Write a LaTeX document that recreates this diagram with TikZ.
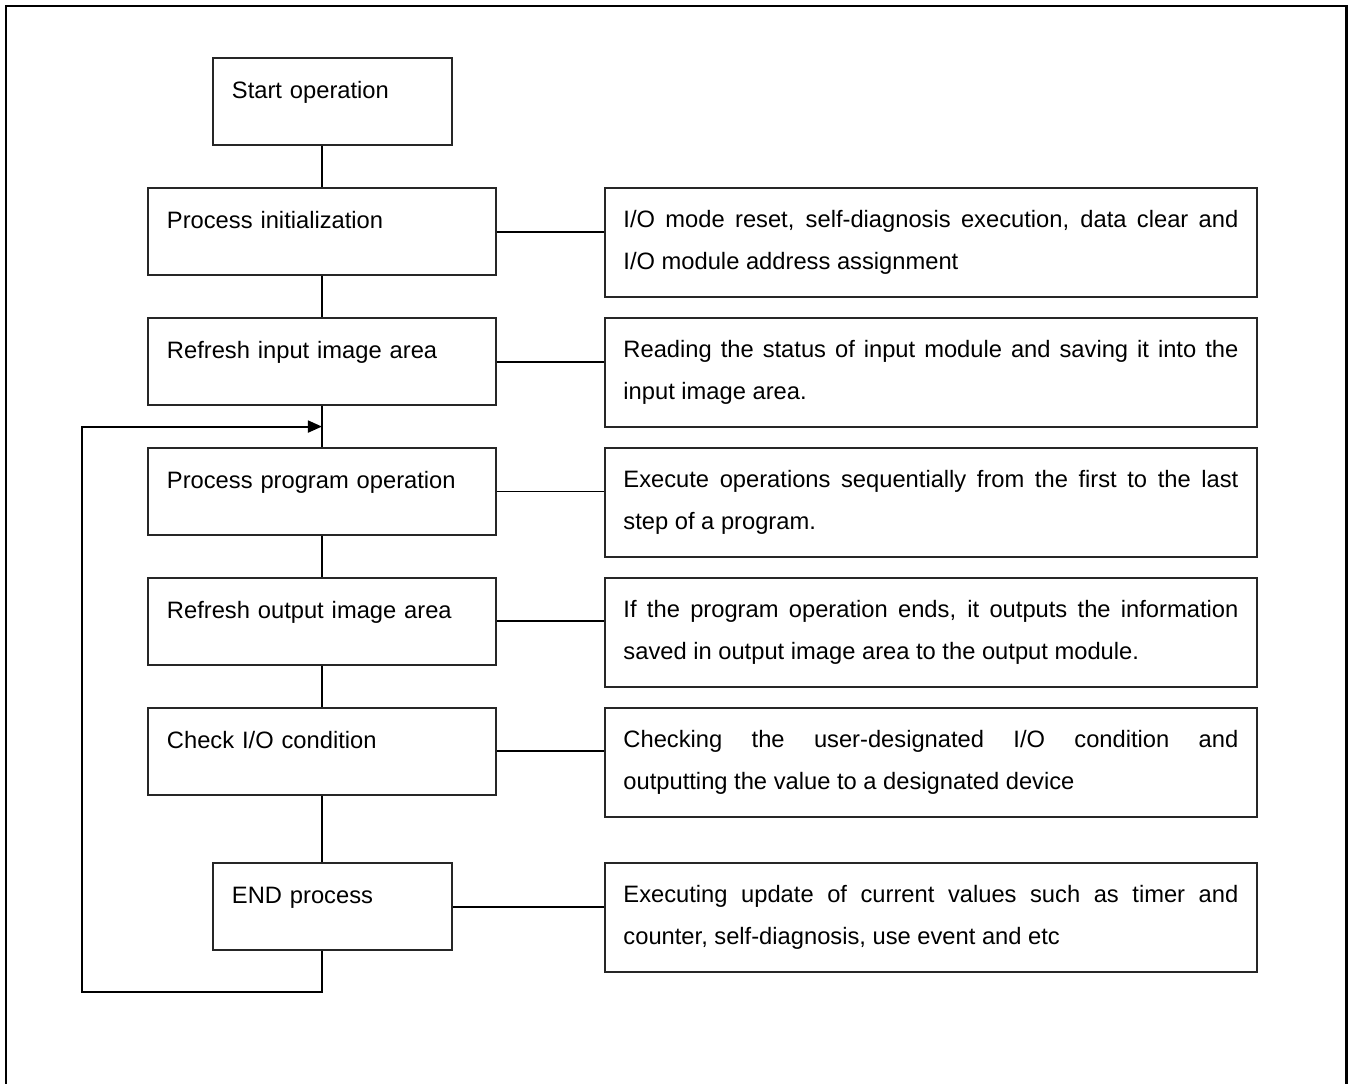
\documentclass[tikz,border=0pt]{standalone}
\usepackage{fontspec}
\setmainfont{Liberation Sans}
\usetikzlibrary{positioning,calc,arrows.meta}

\begin{document}
\begin{tikzpicture}[x=0.02cm, y=-0.02cm, line width=1.1pt]
    \tikzstyle{stepbox} = [draw=black!85, rectangle, inner xsep=0.38cm, inner ysep=0pt, text width=6.2cm, align=left, text height=0.82cm, text depth=0.93cm, font=\fontsize{13.5}{16}\selectfont]
    \tikzstyle{shortbox} = [stepbox, text width=4.02cm]
    \tikzstyle{descbox} = [draw=black!85, rectangle, inner xsep=0.37cm, inner ysep=0pt, text width=12.3cm, minimum height=2.18cm, align=justify, font=\fontsize{13.5}{23.9}\selectfont]

    \useasboundingbox (0,0) rectangle (1350,1084);
    \draw [line width=1.7pt] (6,1084) |- (1346,6) -- (1346,1084);

    % left column
    \node [shortbox, anchor=north west] (start) at (212,57) {Start operation};
    \node [stepbox, anchor=north west] (init) at (147,187) {Process initialization};
    \node [stepbox, below=0.81cm of init] (inref) {Refresh input image area};
    \node [stepbox, below=0.81cm of inref] (prog) {Process program operation};
    \node [stepbox, below=0.81cm of prog] (outref) {Refresh output image area};
    \node [stepbox, below=0.81cm of outref] (iochk) {Check I/O condition};
    \node [shortbox, anchor=north west] (endp) at (212,862) {END process};

    % right column
    \node [descbox, anchor=north west] (initd) at (604,187) {I/O mode reset, self-diagnosis execution, data clear and\linebreak I/O module address assignment};
    \node [descbox, anchor=north west] (inrefd) at (inref.north -| initd.west) {Reading the status of input module and saving it into the\linebreak input image area.};
    \node [descbox, anchor=north west] (progd) at (prog.north -| initd.west) {Execute operations sequentially from the first to the last\linebreak step of a program.};
    \node [descbox, anchor=north west] (outrefd) at (outref.north -| initd.west) {If the program operation ends, it outputs the information\linebreak saved in output image area to the output module.};
    \node [descbox, anchor=north west] (iochkd) at (iochk.north -| initd.west) {Checking the user-designated I/O condition and\linebreak outputting the value to a designated device};
    \node [descbox, anchor=north west] (endpd) at (endp.north -| initd.west) {Executing update of current values such as timer and\linebreak counter, self-diagnosis, use event and etc};

    \coordinate (loopin) at ($(inref.south)!0.5!(prog.north)$);
    \coordinate (loopbot) at (82,992);

    \draw (start.south -| init.north) -- (init.north);
    \draw (init) -- (inref);
    \draw (inref) -- (prog);
    \draw (prog) -- (outref);
    \draw (outref) -- (iochk);
    \draw (iochk.south) -- (iochk.south |- endp.north);
    \draw [-{Triangle[length=0.28cm,width=0.24cm]}] (endp.south -| init.south) |- (loopbot) |- (loopin);

    \draw (init.east) -- (init.east -| initd.west);
    \draw (inref.east) -- (inref.east -| inrefd.west);
    \draw (prog.east) -- (prog.east -| progd.west);
    \draw (outref.east) -- (outref.east -| outrefd.west);
    \draw (iochk.east) -- (iochk.east -| iochkd.west);
    \draw (endp.east) -- (endp.east -| endpd.west);
\end{tikzpicture}
\end{document}
